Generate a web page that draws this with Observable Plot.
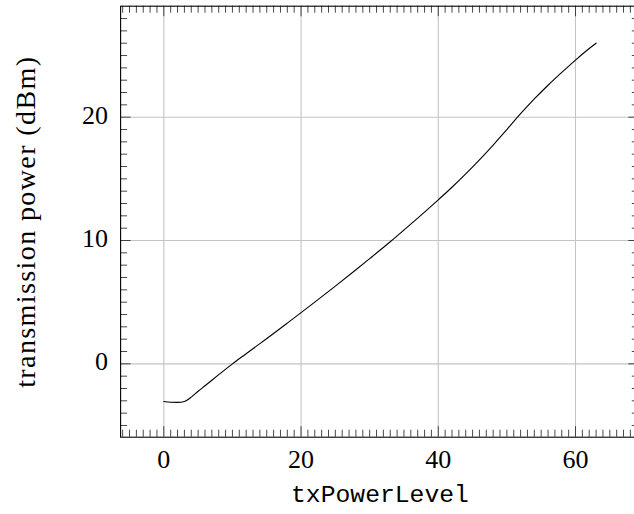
<!DOCTYPE html>
<html><head><meta charset="utf-8">
<script src="https://cdn.jsdelivr.net/npm/d3@7"></script>
<script src="https://cdn.jsdelivr.net/npm/@observablehq/plot@0.6"></script>
<style>html,body{margin:0;padding:0;background:#fff;} #chart svg{display:block;}</style>
</head><body><div id="chart"></div>
<script>
const txPowerLevel = [0,1,2,3,4,5,6,8,10,12,14,16,18,20,22,25,28,30,33,35,38,40,42,44,46,48,50,52,54,56,58,60,62,63];
const powerDbm = [-3.05,-3.12,-3.13,-3.05,-2.7,-2.22,-1.78,-0.88,0.0,0.82,1.64,2.46,3.3,4.15,5.0,6.3,7.63,8.53,9.9,10.85,12.3,13.3,14.32,15.4,16.54,17.74,19.0,20.28,21.48,22.59,23.63,24.63,25.57,26.0];
const xTicks = [0,20,40,60];
const yTicks = [0,10,20];
const xLabel = "txPowerLevel";
const yLabel = "transmission power (dBm)";

const xMinor = d3.range(-6, 70).filter(v => !xTicks.includes(v));
const yMinor = d3.range(-5, 29).filter(v => !yTicks.includes(v));
const data = txPowerLevel.map((x, i) => ({x, y: powerDbm[i]}));

const W = 634, H = 514, mT = 5.7, mB = 77.3, mL = 120.1, mR = -4.8;
const plotH = H - mT - mB;
const plotW = W - mL - mR;
const serif = "Liberation Serif, Times New Roman, serif";
const mono = "Liberation Mono, DejaVu Sans Mono, monospace";
const tickColor = "#333";
const gridColor = "#c4c4c4";
const minorLen = 7, majorLen = 10.5;

const chart = Plot.plot({
  width: W, height: H,
  marginTop: mT, marginBottom: mB, marginLeft: mL, marginRight: mR,
  x: {domain: [-6.3, 69.3]},
  y: {domain: [-5.95, 29.0]},
  style: {background: "#fff", overflow: "hidden", color: "#000", fontFamily: serif},
  marks: [
    Plot.gridX(xTicks, {stroke: gridColor, strokeOpacity: 1, strokeWidth: 1.1}),
    Plot.gridY(yTicks, {stroke: gridColor, strokeOpacity: 1, strokeWidth: 1.1}),
    Plot.tickX(xMinor, {x: d => d, insetBottom: plotH - minorLen, stroke: tickColor, strokeWidth: 0.9}),
    Plot.tickX(xMinor, {x: d => d, insetTop: plotH - minorLen, stroke: tickColor, strokeWidth: 0.9}),
    Plot.tickX(xTicks, {x: d => d, insetBottom: plotH - majorLen, stroke: tickColor, strokeWidth: 0.9}),
    Plot.tickX(xTicks, {x: d => d, insetTop: plotH - majorLen, stroke: tickColor, strokeWidth: 0.9}),
    Plot.tickY(yMinor, {y: d => d, insetRight: plotW - minorLen, stroke: tickColor, strokeWidth: 0.9}),
    Plot.tickY(yMinor, {y: d => d, insetLeft: plotW - minorLen, stroke: tickColor, strokeWidth: 0.9}),
    Plot.tickY(yTicks, {y: d => d, insetRight: plotW - majorLen, stroke: tickColor, strokeWidth: 0.9}),
    Plot.tickY(yTicks, {y: d => d, insetLeft: plotW - majorLen, stroke: tickColor, strokeWidth: 0.9}),
    Plot.line(data, {x: "x", y: "y", stroke: "#000", strokeWidth: 1.1, curve: "monotone-x"}),
    Plot.frame({stroke: "#000", strokeWidth: 1.1}),
    Plot.axisX(xTicks, {tickSize: 0, tickPadding: 12, fontSize: 26, fontFamily: serif, fill: "#000", label: null}),
    Plot.axisY(yTicks, {tickSize: 0, tickPadding: 12.5, fontSize: 26, fontFamily: serif, fill: "#000", label: null, dy: -2}),
    Plot.text([xLabel], {text: d => d, frameAnchor: "bottom", textAnchor: "middle", dy: 65, fontFamily: mono, fontSize: 24.7, fill: "#000"}),
    Plot.text([yLabel], {text: d => d, frameAnchor: "left", textAnchor: "middle", rotate: -90, dx: -95, fontFamily: serif, fontSize: 28, fill: "#000"})
  ]
});
d3.select(chart).selectAll("text")
  .filter(function() { return this.textContent === yLabel; })
  .style("font-family", serif)
  .style("letter-spacing", "1.4px");
d3.select(chart).selectAll("text")
  .filter(function() { return this.textContent === xLabel; })
  .style("font-family", mono);
document.getElementById("chart").appendChild(chart);
</script>
</body></html>
